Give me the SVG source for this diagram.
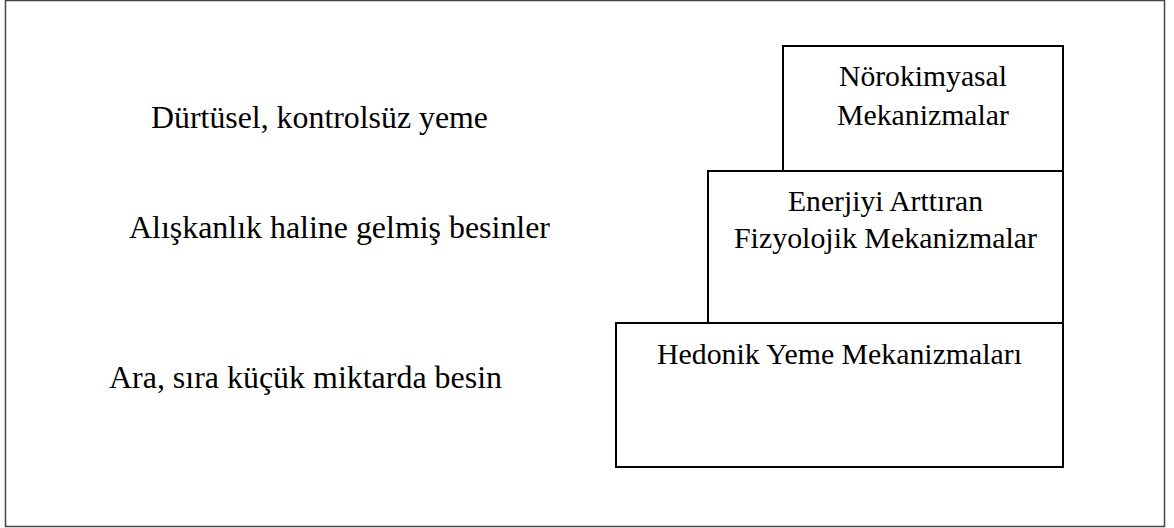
<svg xmlns="http://www.w3.org/2000/svg" width="1174" height="528" viewBox="0 0 1174 528">
<style>
.t{font-family:"Liberation Serif","Times New Roman",serif;font-size:30px;fill:#000}
.l{font-size:32px}
.c{text-anchor:middle}
.b{fill:#fff;stroke:#000;stroke-width:2}
</style>
<rect width="1174" height="528" fill="#fff"/>
<rect id="frame" x="5.5" y="0.5" width="1159" height="526" fill="none" stroke="#444" stroke-width="1.5"/>
<g id="labels">
<text class="t l" x="151" y="128" textLength="337" lengthAdjust="spacingAndGlyphs">Dürtüsel, kontrolsüz yeme</text>
<text class="t l" x="129" y="238" textLength="421" lengthAdjust="spacingAndGlyphs">Alışkanlık haline gelmiş besinler</text>
<text class="t l" x="109" y="388" textLength="393" lengthAdjust="spacingAndGlyphs">Ara, sıra küçük miktarda besin</text>
</g>
<g id="noro">
<rect class="b" x="783" y="46" width="280" height="125"/>
<text class="t c" x="923" y="86" textLength="168" lengthAdjust="spacingAndGlyphs">Nörokimyasal</text>
<text class="t c" x="923" y="125" textLength="172" lengthAdjust="spacingAndGlyphs">Mekanizmalar</text>
</g>
<g id="enerji">
<rect class="b" x="708" y="171" width="355" height="152"/>
<text class="t c" x="885.5" y="211" textLength="195" lengthAdjust="spacingAndGlyphs">Enerjiyi Arttıran</text>
<text class="t c" x="885.5" y="248" textLength="303" lengthAdjust="spacingAndGlyphs">Fizyolojik Mekanizmalar</text>
</g>
<g id="hedonik">
<rect class="b" x="616" y="323" width="447" height="144"/>
<text class="t c" x="839.5" y="364" textLength="365" lengthAdjust="spacingAndGlyphs">Hedonik Yeme Mekanizmaları</text>
</g>
<g id="connectors"></g>
</svg>
